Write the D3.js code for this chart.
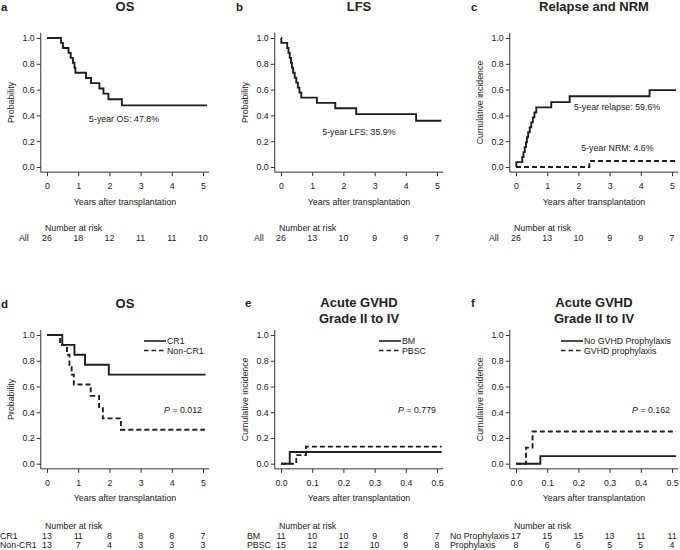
<!DOCTYPE html>
<html>
<head>
<meta charset="utf-8">
<script src="https://cdn.jsdelivr.net/npm/d3@7/dist/d3.min.js"></script>
<style>
  html, body { margin: 0; padding: 0; background: #fff; }
  svg text { font-family: "Liberation Sans", Arial, Helvetica, sans-serif; fill: #222; }
</style>
</head>
<body>
<svg id="chart" width="680" height="550"></svg>
<script>
// ---------------- DATA ----------------
// Panel a: OS (all patients)
const osTimes = [0, 0.45, 0.51, 0.69, 0.76, 0.83, 0.88, 0.91, 1.25, 1.41, 1.68, 1.81, 1.97, 2.40, 5.13];
const osProb  = [1, 0.962, 0.923, 0.885, 0.846, 0.808, 0.769, 0.731, 0.690, 0.650, 0.609, 0.569, 0.525, 0.478, 0.478];
// Panel b: LFS
const lfsTimes = [0, 0.01, 0.20, 0.24, 0.28, 0.32, 0.35, 0.39, 0.44, 0.49, 0.54, 0.59, 0.65, 1.15, 1.74, 2.41, 4.33, 5.14];
const lfsProb  = [1, 0.962, 0.923, 0.885, 0.846, 0.808, 0.769, 0.731, 0.692, 0.654, 0.615, 0.577, 0.538, 0.497, 0.455, 0.410, 0.359, 0.359];
// Panel c: Relapse and NRM
const relTimes = [0, 0.01, 0.20, 0.24, 0.28, 0.32, 0.35, 0.39, 0.44, 0.49, 0.54, 0.59, 0.65, 1.13, 1.72, 4.28, 5.13];
const relInc   = [0, 0.038, 0.077, 0.115, 0.154, 0.192, 0.231, 0.269, 0.308, 0.346, 0.385, 0.423, 0.462, 0.503, 0.548, 0.596, 0.596];
const nrmTimes = [0, 2.35, 5.13];
const nrmInc   = [0, 0.046, 0.046];
// Panel d: OS by disease status
const cr1Times = [0, 0.49, 0.88, 1.22, 1.98, 5.08];
const cr1Prob  = [1, 0.923, 0.846, 0.769, 0.692, 0.692];
const noncrTimes = [0, 0.42, 0.64, 0.72, 0.79, 0.86, 1.40, 1.67, 1.79, 2.37, 5.06];
const noncrProb  = [1, 0.923, 0.846, 0.769, 0.692, 0.615, 0.527, 0.440, 0.352, 0.264, 0.264];
// Panel e: aGVHD by graft source
const bmTimes = [0, 0.028, 0.515];
const bmInc   = [0, 0.091, 0.091];
const pbscTimes = [0, 0.049, 0.080, 0.515];
const pbscInc   = [0, 0.067, 0.133, 0.133];
// Panel f: aGVHD by prophylaxis
const noProTimes = [0, 0.078, 0.513];
const noProInc   = [0, 0.059, 0.059];
const proTimes = [0, 0.032, 0.053, 0.513];
const proInc   = [0, 0.125, 0.25, 0.25];

// Tick labels
const yTicks = [0, 0.2, 0.4, 0.6, 0.8, 1.0];
const xTicksYears = [0, 1, 2, 3, 4, 5];
const xTicksShort = [0, 0.1, 0.2, 0.3, 0.4, 0.5];

// Numbers at risk
const riskA = [26, 18, 12, 11, 11, 10];
const riskB = [26, 13, 10, 9, 9, 7];
const riskC = [26, 13, 10, 9, 9, 7];
const riskCR1 = [13, 11, 8, 8, 8, 7];
const riskNonCR1 = [13, 7, 4, 3, 3, 3];
const riskBM = [11, 10, 10, 9, 8, 7];
const riskPBSC = [15, 12, 12, 10, 9, 8];
const riskNoPro = [17, 15, 15, 13, 11, 11];
const riskPro = [8, 6, 6, 5, 5, 4];

// ---------------- DRAWING ----------------
const svg = d3.select('#chart');
const FS = 8.8;
const LINE = '#1e1e1e';
const AX = '#333';
const DASH = '5,3';

const panels = [
  { letter: 'a', title: ['OS'], left: 0, x0: 47, y1: 38, y0: 167, xmax: 5, xt: xTicksYears, fmt: d3.format('d'),
    ylab: 'Probability', ylabX: 11, letterX: 1, series: [{t: osTimes, v: osProb, dash: null}],
    notes: [{text: '5-year OS: 47.8%', t: 1.35, y: 122}],
    rowLabelX: 19, risk: [{label: 'All', n: riskA}], riskTitleY: 231, rowY: [241] },
  { letter: 'b', title: ['LFS'], left: 225, x0: 281, y1: 38, y0: 167, xmax: 5, xt: xTicksYears, fmt: d3.format('d'),
    ylab: 'Probability', ylabX: 245, letterX: 236, series: [{t: lfsTimes, v: lfsProb, dash: null}],
    notes: [{text: '5-year LFS: 35.9%', t: 1.32, y: 134.5}],
    rowLabelX: 254, risk: [{label: 'All', n: riskB}], riskTitleY: 231, rowY: [241] },
  { letter: 'c', title: ['Relapse and NRM'], left: 450, x0: 516, y1: 38, y0: 167, xmax: 5, xt: xTicksYears, fmt: d3.format('d'),
    ylab: 'Cumulative incidence', ylabX: 480, letterX: 471, series: [{t: relTimes, v: relInc, dash: null}, {t: nrmTimes, v: nrmInc, dash: DASH}],
    notes: [{text: '5-year relapse: 59.6%', t: 1.86, y: 109.5}, {text: '5-year NRM: 4.6%', t: 2.09, y: 150.5}],
    rowLabelX: 489, risk: [{label: 'All', n: riskC}], riskTitleY: 231, rowY: [241] },
  { letter: 'd', title: ['OS'], left: 0, x0: 47, y1: 335, y0: 463.7, xmax: 5, xt: xTicksYears, fmt: d3.format('d'),
    ylab: 'Probability', ylabX: 11, letterX: 1,
    series: [{t: cr1Times, v: cr1Prob, dash: null}, {t: noncrTimes, v: noncrProb, dash: DASH}],
    legend: [{label: 'CR1', dash: null}, {label: 'Non-CR1', dash: DASH}], legX: 144,
    pval: '0.012', pRight: 202,
    rowLabelX: 0, risk: [{label: 'CR1', n: riskCR1}, {label: 'Non-CR1', n: riskNonCR1}], riskTitleY: 529, rowY: [538.5, 548] },
  { letter: 'e', title: ['Acute GVHD', 'Grade II to IV'], left: 225, x0: 281, y1: 335, y0: 463.7, xmax: 0.5, xt: xTicksShort, fmt: d3.format('.1f'),
    ylab: 'Cumulative incidence', ylabX: 245, letterX: 245,
    series: [{t: bmTimes, v: bmInc, dash: null}, {t: pbscTimes, v: pbscInc, dash: DASH}],
    legend: [{label: 'BM', dash: null}, {label: 'PBSC', dash: DASH}], legX: 379,
    pval: '0.779', pRight: 436,
    rowLabelX: 247, risk: [{label: 'BM', n: riskBM}, {label: 'PBSC', n: riskPBSC}], riskTitleY: 529, rowY: [538.5, 548] },
  { letter: 'f', title: ['Acute GVHD', 'Grade II to IV'], left: 450, x0: 516, y1: 335, y0: 463.7, xmax: 0.5, xt: xTicksShort, fmt: d3.format('.1f'),
    ylab: 'Cumulative incidence', ylabX: 480, letterX: 471,
    series: [{t: noProTimes, v: noProInc, dash: null}, {t: proTimes, v: proInc, dash: DASH}],
    legend: [{label: 'No GVHD Prophylaxis', dash: null}, {label: 'GVHD prophylaxis', dash: DASH}], legX: 561,
    pval: '0.162', pRight: 670,
    rowLabelX: 450, risk: [{label: 'No Prophylaxis', n: riskNoPro}, {label: 'Prophylaxis', n: riskPro}], riskTitleY: 529, rowY: [538.5, 548] }
];

panels.forEach(p => {
  const g = svg.append('g');
  const x = d3.scaleLinear().domain([0, p.xmax]).range([p.x0, p.x0 + 156]);
  const y = d3.scaleLinear().domain([0, 1]).range([p.y0, p.y1]);
  const ext = p.xmax * 0.04;
  const bl = x(-ext), br = x(p.xmax + ext), bt = y(1.04), bb = y(-0.04);

  // L box
  g.append('path').attr('d', `M${bl},${bt}V${bb}H${br}`).attr('fill', 'none').attr('stroke', AX).attr('stroke-width', 1);

  // axes
  const ya = d3.axisLeft(y).tickValues(yTicks).tickFormat(d3.format('.1f')).tickSize(4).tickPadding(2);
  const yg = g.append('g').attr('transform', `translate(${bl},0)`).call(ya);
  const xa = d3.axisBottom(x).tickValues(p.xt).tickFormat(p.fmt).tickSize(4).tickPadding(6.5);
  const xg = g.append('g').attr('transform', `translate(0,${bb})`).call(xa);
  [yg, xg].forEach(a => {
    a.select('.domain').remove();
    a.selectAll('line').attr('stroke', AX);
    a.selectAll('text').attr('font-size', FS).attr('font-family', '"Liberation Sans", Arial, sans-serif').attr('fill', '#222');
  });

  // titles
  g.append('text').attr('x', p.letterX).attr('y', p.title.length > 1 ? p.y1 - 28 : p.y1 - 27)
    .attr('font-size', 11.5).attr('font-weight', 'bold').text(p.letter);
  const cx = (bl + br) / 2;
  p.title.forEach((t, i) => {
    const ty = p.title.length > 1 ? p.y1 - 28 + i * 16 : p.y1 - 27;
    g.append('text').attr('x', cx).attr('y', ty).attr('text-anchor', 'middle')
      .attr('font-size', 13).attr('font-weight', 'bold').text(t);
  });

  // axis labels
  g.append('text').attr('transform', `translate(${p.ylabX},${(bt + bb) / 2}) rotate(-90)`)
    .attr('text-anchor', 'middle').attr('dy', '0.35em').attr('font-size', FS).text(p.ylab);
  g.append('text').attr('x', x(p.xmax / 2)).attr('y', bb + 32.5).attr('text-anchor', 'middle')
    .attr('font-size', FS).text('Years after transplantation');

  // curves
  const line = d3.line().x(d => x(d[0])).y(d => y(d[1])).curve(d3.curveStepAfter);
  p.series.forEach(s => {
    const pts = s.t.map((t, i) => [t, s.v[i]]);
    g.append('path').attr('d', line(pts)).attr('fill', 'none').attr('stroke', LINE)
      .attr('stroke-width', 1.9).attr('stroke-dasharray', s.dash);
  });

  // annotations
  (p.notes || []).forEach(n => {
    g.append('text').attr('x', x(n.t)).attr('y', n.y).attr('font-size', FS).text(n.text);
  });

  // legend
  if (p.legend) {
    p.legend.forEach((l, i) => {
      const ly = p.y1 + 6 + i * 9.5;
      g.append('line').attr('x1', p.legX).attr('x2', p.legX + 22).attr('y1', ly).attr('y2', ly)
        .attr('stroke', LINE).attr('stroke-width', 1.6).attr('stroke-dasharray', l.dash ? '4.5,3' : null);
      g.append('text').attr('x', p.legX + 23).attr('y', ly).attr('dy', '0.35em').attr('font-size', FS).text(l.label);
    });
    const pt = g.append('text').attr('x', p.pRight).attr('y', p.y1 + 77.5).attr('text-anchor', 'end').attr('font-size', FS);
    pt.append('tspan').attr('font-style', 'italic').text('P');
    pt.append('tspan').text(' = ' + p.pval);
  }

  // numbers at risk
  g.append('text').attr('x', x(0) - 2).attr('y', p.riskTitleY).attr('font-size', FS).text('Number at risk');
  p.risk.forEach((r, i) => {
    g.append('text').attr('x', p.rowLabelX).attr('y', p.rowY[i]).attr('font-size', FS).text(r.label);
    g.selectAll(null).data(r.n).enter().append('text')
      .attr('x', (d, j) => x(p.xt[j])).attr('y', p.rowY[i]).attr('text-anchor', 'middle')
      .attr('font-size', FS).text(d => d);
  });
});
</script>
</body>
</html>
